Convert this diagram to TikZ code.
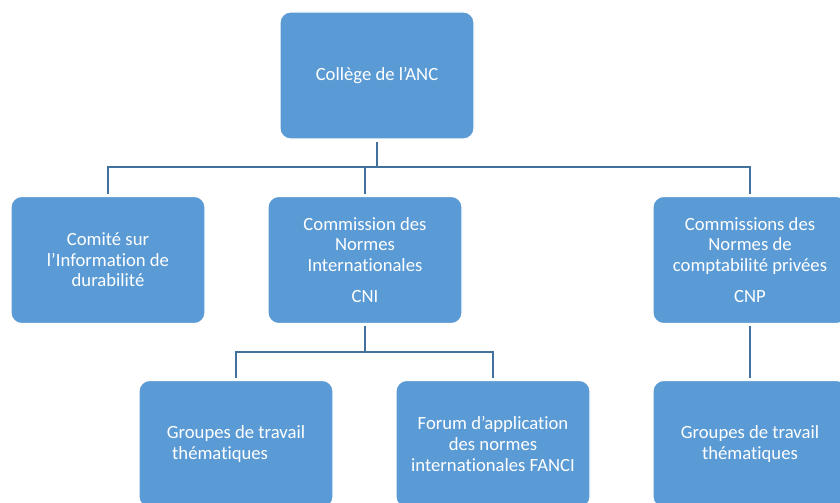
\documentclass[tikz,border=0pt]{standalone}
\usepackage{fontspec}
\setmainfont{Carlito}[Ligatures={NoCommon,NoRare}]
\usepackage{xcolor}
\definecolor{boxblue}{RGB}{91,155,213}
\definecolor{lineblue}{RGB}{65,113,156}

\begin{document}
\begin{tikzpicture}[x=0.75pt,y=0.75pt,yscale=-1,xscale=1,
  orgbox/.style={draw=white,line width=0.8pt,fill=boxblue,rounded corners=8pt,
    minimum width=194*0.75pt,minimum height=127*0.75pt,inner sep=3pt,outer sep=2pt,
    text=white,align=center,font=\fontsize{14}{15.4}\selectfont},
  link/.style={draw=lineblue,line width=1.6pt}]

\useasboundingbox (0,0) rectangle (840,503);
\clip (0,0) rectangle (840,503);

% Boxes
\node [orgbox] (college) at (377,75.5) {Collège de l’ANC};

\node [orgbox] (comite) at (108,260) {Comité sur\\l’Information de\\durabilité};
\node [orgbox] (cni) at (365,260) {Commission des\\Normes\\Internationales\\[8pt]CNI};
\node [orgbox] (cnp) at (750,260) {Commissions des\\Normes de\\comptabilité privées\\[8pt]CNP};

\node [orgbox] (groupes) at (236,444) [align=left] {Groupes de travail\\\hspace*{4pt}thématiques};
\node [orgbox] (fanci) at (493,444) {Forum d’application\\des normes\\internationales FANCI};
\node [orgbox] (groupescnp) at (750,444) {Groupes de travail\\thématiques};

% Connectors
\coordinate (bus) at (377,167);
\coordinate (subbus) at (365,352);
\draw [link] (college.south) -- (bus);
\draw [link] (bus) -| (comite.north);
\draw [link] (bus) -| (cnp.north);
\draw [link] (cni.north) -- (cni.north |- bus);

\draw [link] (cni.south) -- (subbus);
\draw [link] (subbus) -| (groupes.north);
\draw [link] (subbus) -| (fanci.north);

\draw [link] (cnp.south) -- (groupescnp.north);

\end{tikzpicture}
\end{document}
